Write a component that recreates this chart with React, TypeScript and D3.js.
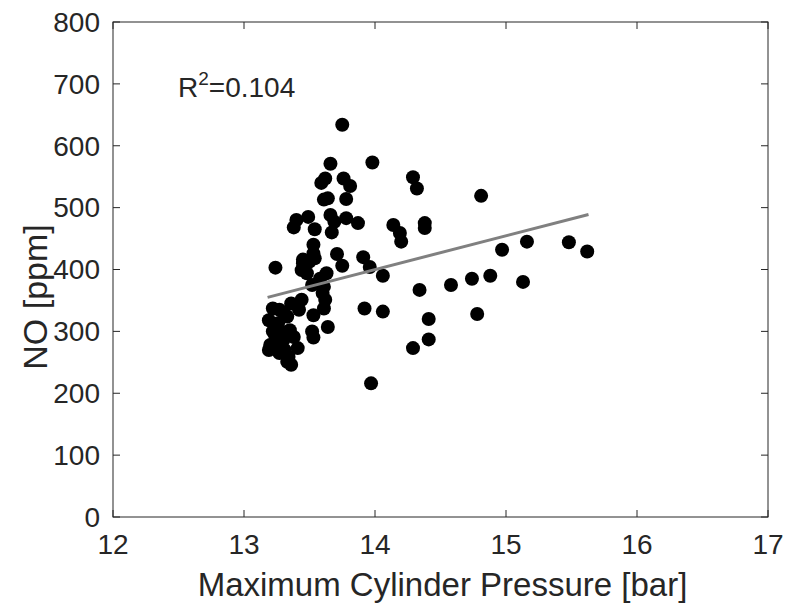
import React from "react";
import * as d3 from "d3";

const pressure = [
  13.75, 13.66, 13.98, 13.62, 13.59, 13.76, 13.81, 14.29, 14.32, 13.61,
  13.64, 13.78, 13.40, 13.49, 13.38, 13.54, 13.66, 13.69, 13.78, 13.87,
  13.67, 14.14, 14.19, 14.20, 14.38, 14.38, 13.53, 13.24, 13.45, 13.44,
  13.50, 13.54, 13.53, 13.71, 13.75, 13.91, 13.96, 14.06, 14.34, 13.63,
  13.61, 13.52, 13.48, 13.62, 13.61, 13.44, 13.36, 13.53, 13.22, 13.19,
  13.26, 13.33, 13.35, 13.24, 13.30, 13.38, 13.19, 13.27, 13.34, 13.41,
  13.36, 13.33, 13.20, 13.52, 13.53, 13.64, 13.92, 14.06, 14.29, 13.97,
  14.81, 14.97, 15.16, 15.48, 15.62, 14.58, 14.74, 14.88, 15.13, 14.41,
  14.78, 14.41, 13.28, 13.30, 13.25, 13.31, 13.22, 13.42, 13.27, 13.60,
  13.58, 13.45,
];
const no = [
  634, 571, 573, 547, 540, 547, 535, 549, 531, 513,
  515, 514, 480, 485, 468, 465, 488, 477, 483, 475,
  460, 472, 459, 445, 475, 467, 440, 403, 410, 399,
  413, 418, 426, 425, 406, 420, 404, 390, 367, 394,
  372, 375, 394, 351, 337, 351, 345, 326, 337, 318,
  313, 324, 302, 291, 286, 291, 270, 265, 259, 273,
  246, 251, 278, 300, 290, 307, 337, 332, 273, 216,
  519, 432, 445, 444, 429, 375, 385, 390, 380, 320,
  328, 287, 300, 330, 280, 270, 300, 335, 335, 362,
  385, 416,
];
const fitX = [13.18, 15.63];
const fitY = [355, 489];
const xTicks = [12, 13, 14, 15, 16, 17];
const yTicks = [0, 100, 200, 300, 400, 500, 600, 700, 800];
const r2Text = "0.104";

const W = 787;
const H = 608;
const L = 113, R = 768, T = 22, B = 517;
const FONT = "'Liberation Sans', Arial, Helvetica, sans-serif";
const TXT = "#262626";

export default function App() {
  const x = d3.scaleLinear().domain([12, 17]).range([L, R]);
  const y = d3.scaleLinear().domain([0, 800]).range([B, T]);
  const line = d3
    .line<number>()
    .x((_, i) => x(fitX[i]))
    .y((d) => y(d));
  const tl = 7;
  return (
    <div style={{ position: "absolute", left: 0, top: 0, width: W, height: H, background: "#fff" }}>
      <svg width={W} height={H} style={{ display: "block", fontFamily: FONT }}>
        <rect x={0} y={0} width={W} height={H} fill="#fff" />
        {pressure.map((p, i) => (
          <circle key={i} cx={x(p)} cy={y(no[i])} r={7} fill="#000" />
        ))}
        <path d={line(fitY) || ""} stroke="#808080" strokeWidth={3} fill="none" />
        <rect x={L} y={T} width={R - L} height={B - T} fill="none" stroke="#262626" strokeWidth={1} />
        {xTicks.map((t) => (
          <g key={"x" + t}>
            <line x1={x(t)} x2={x(t)} y1={B} y2={B - tl} stroke="#262626" />
            <line x1={x(t)} x2={x(t)} y1={T} y2={T + tl} stroke="#262626" />
            <text x={x(t)} y={B + 37} textAnchor="middle" fontSize={28} fill={TXT}>
              {t}
            </text>
          </g>
        ))}
        {yTicks.map((t) => (
          <g key={"y" + t}>
            <line x1={L} x2={L + tl} y1={y(t)} y2={y(t)} stroke="#262626" />
            <line x1={R} x2={R - tl} y1={y(t)} y2={y(t)} stroke="#262626" />
            <text x={L - 13} y={y(t)} dy="0.35em" textAnchor="end" fontSize={28} fill={TXT}>
              {t}
            </text>
          </g>
        ))}
        <text x={(L + R) / 2 + 2} y={596} textAnchor="middle" fontSize={33} fill={TXT}>
          Maximum Cylinder Pressure [bar]
        </text>
        <text
          transform={`translate(47,297) rotate(-90)`}
          textAnchor="middle"
          fontSize={34}
          fill={TXT}
        >
          NO [ppm]
        </text>
        <text x={178} y={97} fontSize={28} fill={TXT}>
          R<tspan fontSize={19} dy={-12}>2</tspan>
          <tspan dy={12}>={r2Text}</tspan>
        </text>
      </svg>
    </div>
  );
}
